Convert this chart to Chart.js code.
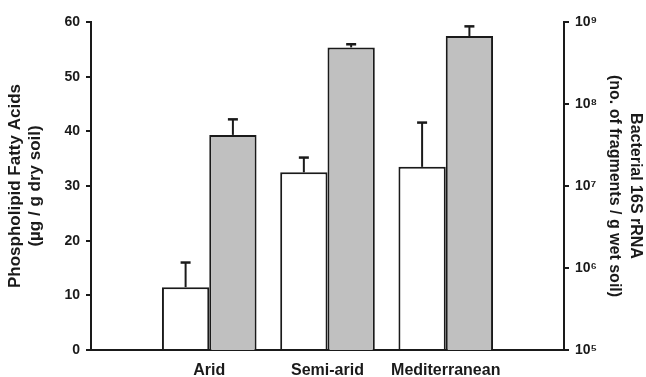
<!DOCTYPE html>
<html><head><meta charset="utf-8">
<script src="https://cdn.jsdelivr.net/npm/chart.js@4/dist/chart.umd.min.js"></script>
<style>html,body{margin:0;padding:0;background:#fff;overflow:hidden;}</style>
</head><body><canvas id="c" width="646" height="377"></canvas>
<script>
const categories = ['', 'Arid', 'Semi-arid', 'Mediterranean', ''];
const plfaValues = [null, 11.5, 32.5, 33.5, null];
const plfaErrors = [null, 4.5, 2.7, 8.1, null];
const rnaValues = [null, 4.2e7, 4.9e8, 6.75e8, null];
const rnaErrors = [null, 2.3e7, 4.5e7, 2.1e8, null];
const leftTicks = [0, 10, 20, 30, 40, 50, 60];
const rightTicks = [1e5, 1e6, 1e7, 1e8, 1e9];

const SUP = {'0':'⁰','1':'¹','2':'²','3':'³','4':'⁴','5':'⁵','6':'⁶','7':'⁷','8':'⁸','9':'⁹'};
const powLabel = v => '10' + String(Math.round(Math.log10(v))).split('').map(c => SUP[c]).join('');

const FONT = "'Liberation Sans', Arial, sans-serif";
const INK = '#1a1a1a';

const errorBars = {
  id: 'errorBars',
  afterDatasetsDraw(chart) {
    const ctx = chart.ctx;
    chart.data.datasets.forEach((ds, di) => {
      const meta = chart.getDatasetMeta(di);
      const scale = chart.scales[ds.yAxisID];
      meta.data.forEach((el, i) => {
        const v = ds.data[i], e = ds.errors[i];
        if (v == null || e == null) return;
        const x = el.x, yBar = el.y, yTop = scale.getPixelForValue(v + e);
        ctx.save();
        ctx.strokeStyle = INK;
        ctx.lineWidth = 2;
        ctx.beginPath();
        ctx.moveTo(x, yBar); ctx.lineTo(x, yTop);
        ctx.stroke();
        ctx.lineWidth = 2.5;
        ctx.beginPath();
        ctx.moveTo(x - 5, yTop); ctx.lineTo(x + 5, yTop);
        ctx.stroke();
        ctx.restore();
      });
    });
  }
};

new Chart(document.getElementById('c'), {
  type: 'bar',
  data: {
    labels: categories,
    datasets: [
      { data: plfaValues, errors: plfaErrors, yAxisID: 'y', backgroundColor: '#ffffff',
        borderColor: INK, borderWidth: 2, borderSkipped: 'start' },
      { data: rnaValues, errors: rnaErrors, yAxisID: 'y2', backgroundColor: '#c0c0c0',
        borderColor: INK, borderWidth: 2, borderSkipped: 'start' }
    ]
  },
  options: {
    responsive: false,
    animation: false,
    layout: { padding: { top: 22, bottom: 0, left: 0, right: 0 } },
    datasets: { bar: { barPercentage: 1, categoryPercentage: 0.8 } },
    plugins: { legend: { display: false }, tooltip: { enabled: false } },
    scales: {
      x: {
        type: 'category',
        offset: false,
        grid: { display: false, drawTicks: false },
        border: { display: true, color: INK, width: 2 },
        ticks: { color: INK, font: { family: FONT, size: 16, weight: 'bold' }, padding: 11, maxRotation: 0, autoSkip: false },
        afterFit(s) { s.height = 27; }
      },
      y: {
        type: 'linear', position: 'left', min: 0, max: 60,
        afterBuildTicks(s) { s.ticks = leftTicks.map(v => ({ value: v })); },
        grid: { display: true, drawOnChartArea: false, drawTicks: true, tickLength: 5, color: INK, lineWidth: 2 },
        border: { display: true, color: INK, width: 2 },
        ticks: { color: INK, font: { family: FONT, size: 14, weight: 'bold' }, padding: 6 },
        title: { display: true, text: ['Phospholipid Fatty Acids', '(µg / g dry soil)'], color: INK,
                 font: { family: FONT, size: 17, weight: 'bold', lineHeight: '20px' }, padding: { top: 5, bottom: 0 } },
        afterFit(s) { s.width = 91; }
      },
      y2: {
        type: 'logarithmic', position: 'right', min: 1e5, max: 1e9,
        afterBuildTicks(s) { s.ticks = rightTicks.map(v => ({ value: v })); },
        grid: { display: true, drawOnChartArea: false, drawTicks: true, tickLength: 5, color: INK, lineWidth: 2 },
        border: { display: true, color: INK, width: 2 },
        ticks: { color: INK, font: { family: FONT, size: 14, weight: 'bold' }, padding: 6, callback: v => powLabel(v) },
        title: { display: true, text: ['Bacterial 16S rRNA', '(no. of fragments / g wet soil)'], color: INK,
                 font: { family: FONT, size: 16, weight: 'bold', lineHeight: '21px' }, padding: { top: 0, bottom: 0 } },
        afterFit(s) { s.width = 82; }
      }
    }
  },
  plugins: [errorBars]
});
</script>
</body></html>
